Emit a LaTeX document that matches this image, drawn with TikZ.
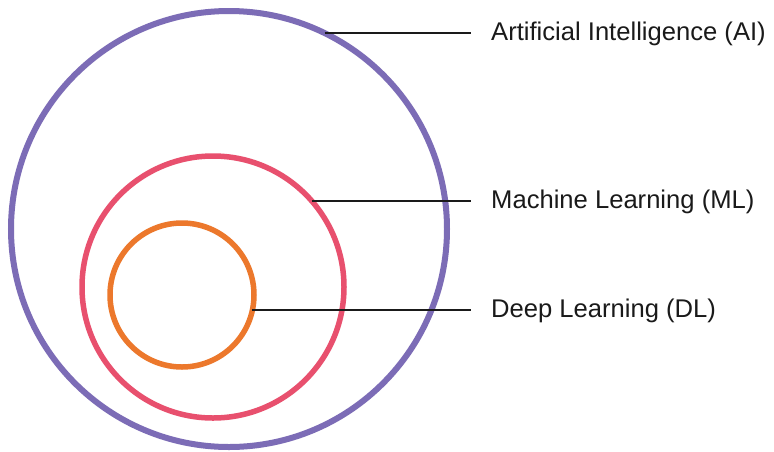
\documentclass[tikz,border=0pt]{standalone}
\usepackage{fontspec}
\setmainfont{Liberation Sans}
\definecolor{aicol}{HTML}{7C6CB6}
\definecolor{mlcol}{HTML}{E8506E}
\definecolor{dlcol}{HTML}{EC782C}
\definecolor{inkcol}{HTML}{1A1A1A}
\begin{document}
\begin{tikzpicture}[x=1pt,y=-1pt,
  ring/.style={circle, draw, inner sep=0pt, outer sep=0pt},
  lbl/.style={anchor=west, inner xsep=20pt, inner ysep=0pt, text=inkcol,
              font=\fontsize{25.6}{29}\selectfont},
  leader/.style={draw=inkcol, line width=1.4pt}]
  \useasboundingbox[fill=white] (0,0) rectangle (774,451);

  % nested rings
  \node[ring, draw=aicol, line width=6pt, minimum size=436pt] (ai) at (229,229) {};
  \node[ring, draw=mlcol, line width=5.5pt, minimum size=262pt] (ml) at (213,287) {};
  \node[ring, draw=dlcol, line width=5.5pt, minimum size=144pt] (dl) at (182,295) {};

  % labels
  \node[lbl] (ailbl) at (471,34) {Artificial Intelligence (AI)};
  \node[lbl] (mllbl) at (471,202) {Machine Learning (ML)};
  \node[lbl] (dllbl) at (471,311) {Deep Learning (DL)};

  % leader lines from each ring to its label
  \draw[leader] (ai.64) -- (ai.64 -| ailbl.west);
  \draw[leader] (ml.41) -- (ml.41 -| mllbl.west);
  \draw[leader] (dl.-12) -- (dl.-12 -| dllbl.west);
\end{tikzpicture}
\end{document}
